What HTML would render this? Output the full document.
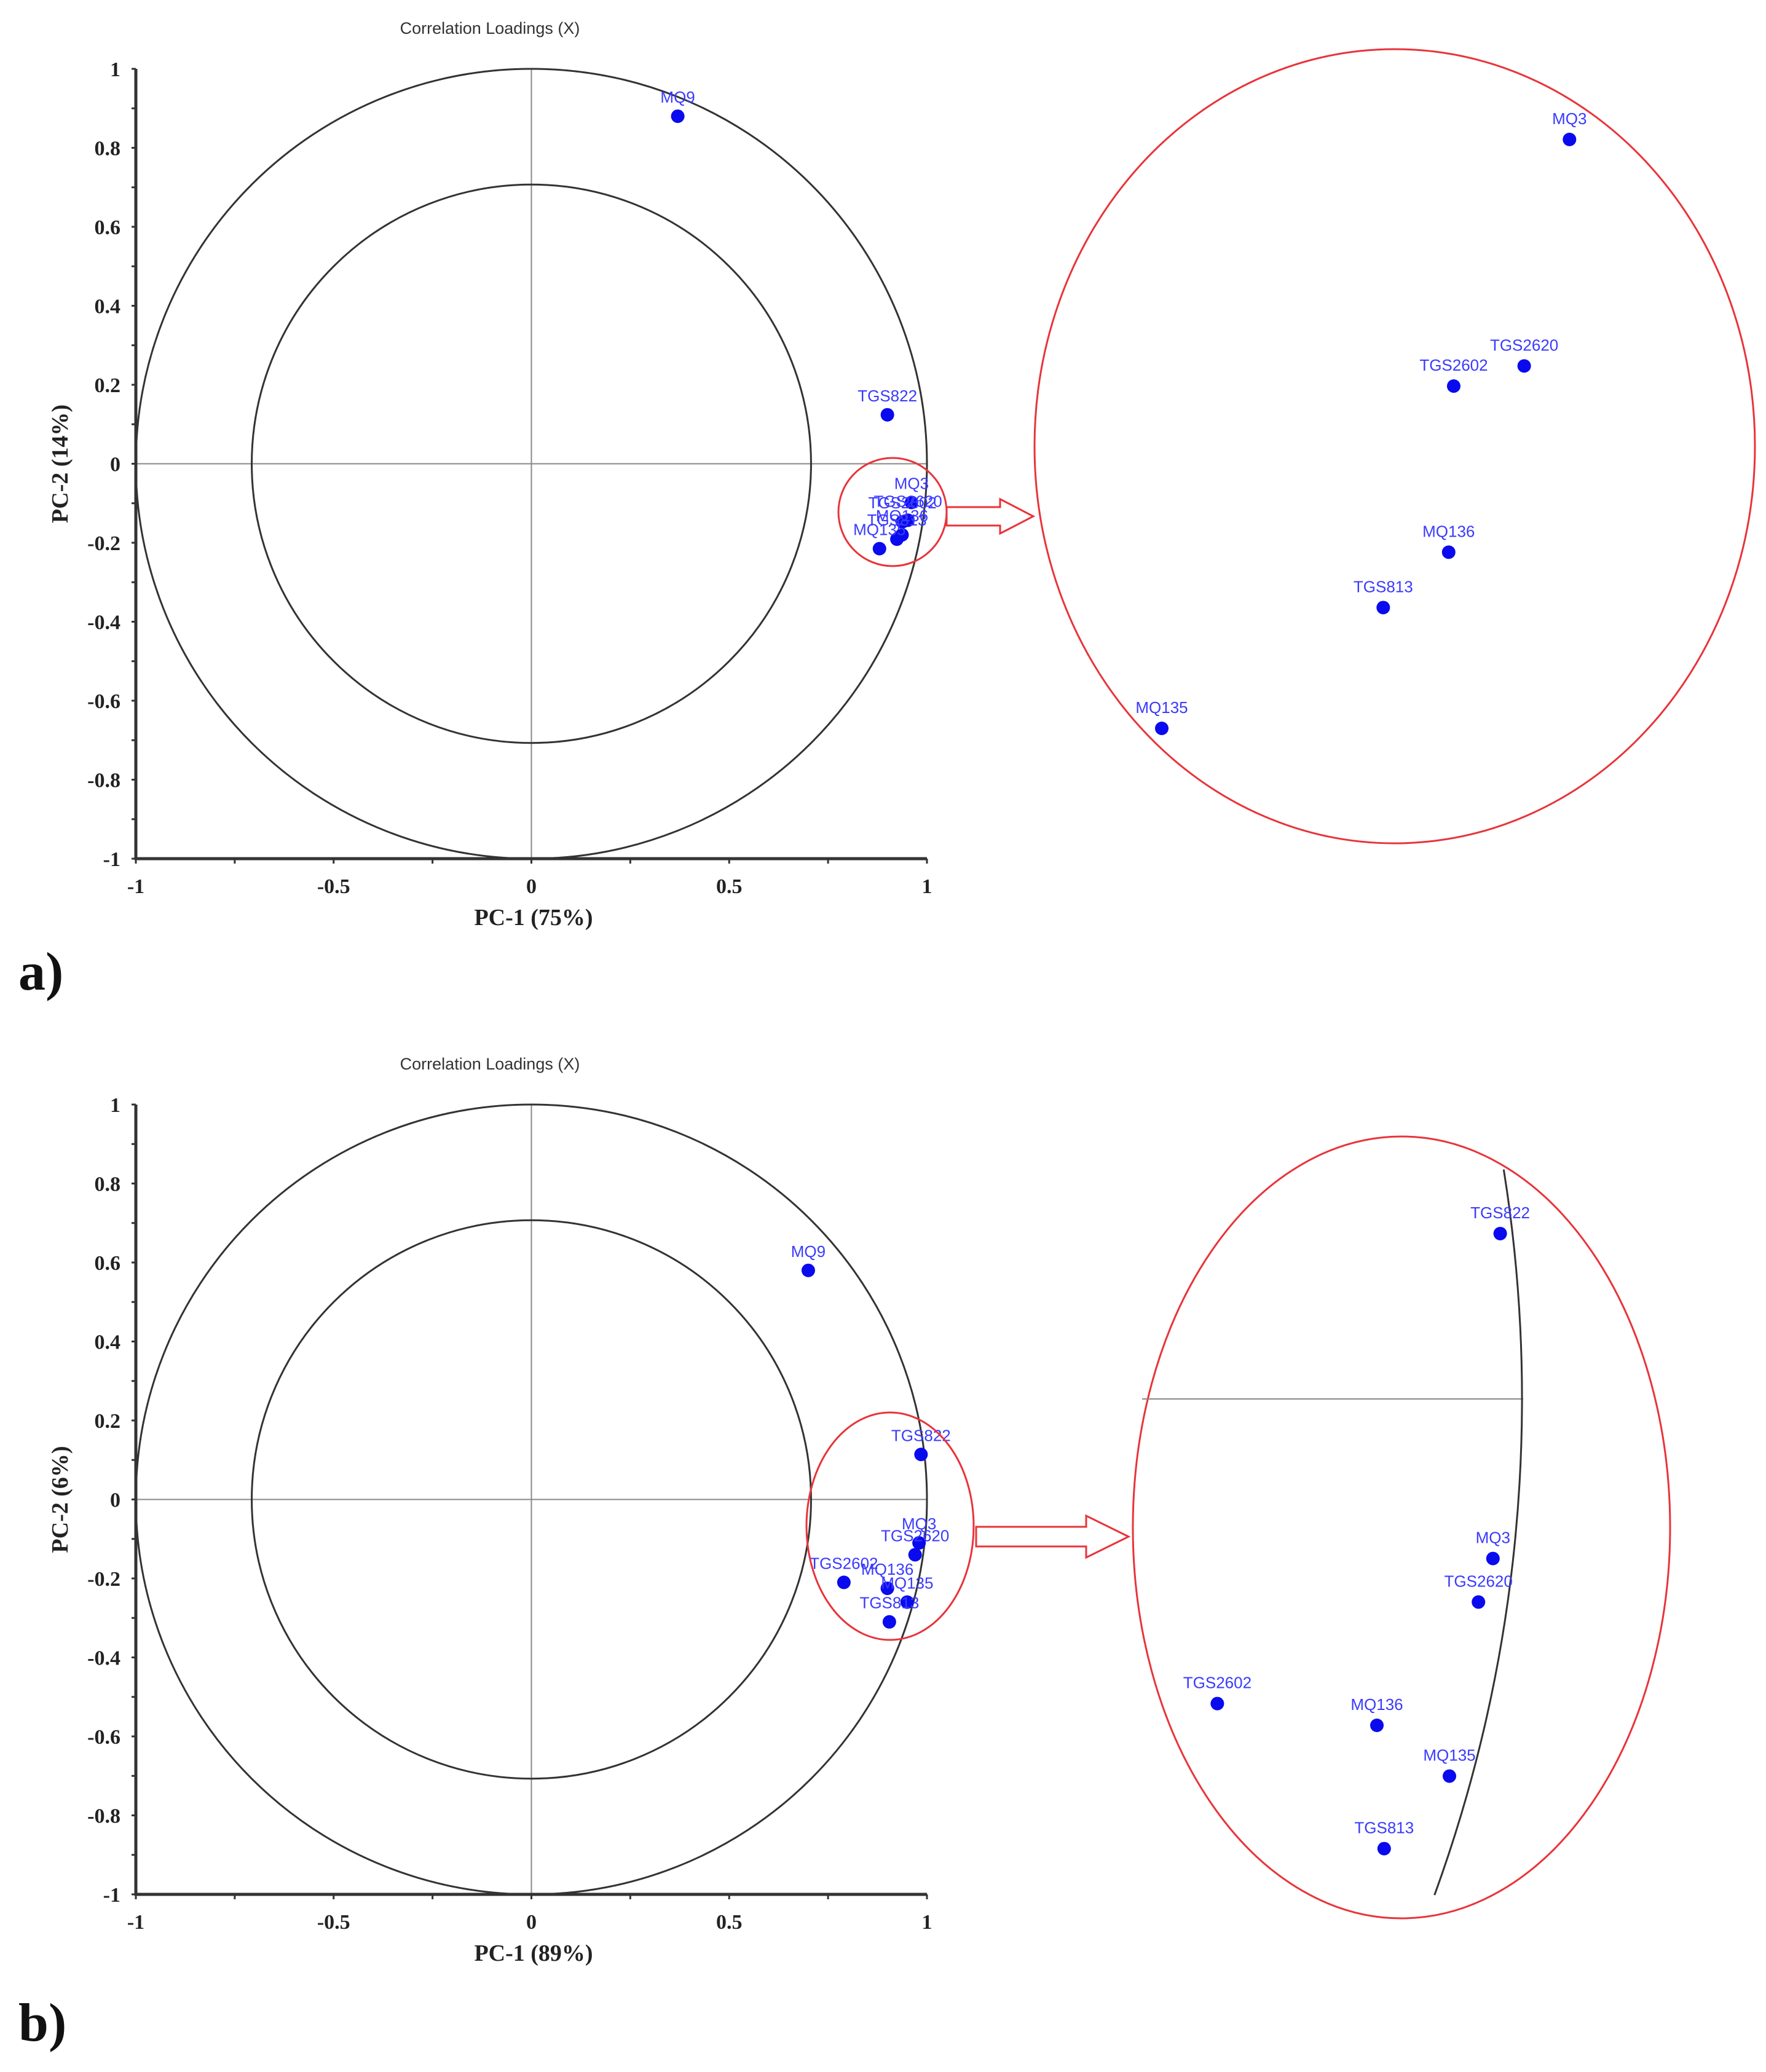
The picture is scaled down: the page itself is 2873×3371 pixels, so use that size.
<!DOCTYPE html>
<html><head><meta charset="utf-8"><style>
html,body{margin:0;padding:0;background:#fff;}
svg{display:block;}
</style></head><body>
<svg id="fig" width="2873" height="3371" viewBox="0 0 2873 3371" xmlns="http://www.w3.org/2000/svg">
<rect width="2873" height="3371" fill="#fff"/>
</svg>
<script>
// ---- data ----
const namesA = ["MQ9","TGS822","MQ3","TGS2620","TGS2602","MQ136","TGS813","MQ135"];
const pc1A = [0.37,0.90,0.961,0.952,0.938,0.937,0.924,0.88];
const pc2A = [0.88,0.124,-0.098,-0.143,-0.147,-0.180,-0.191,-0.215];
const insetNamesA = ["MQ3","TGS2620","TGS2602","MQ136","TGS813","MQ135"];
const namesB = ["MQ9","TGS822","MQ3","TGS2620","TGS2602","MQ136","MQ135","TGS813"];
const pc1B = [0.70,0.985,0.98,0.97,0.79,0.90,0.95,0.905];
const pc2B = [0.58,0.114,-0.11,-0.14,-0.21,-0.225,-0.26,-0.31];
const insetNamesB = ["TGS822","MQ3","TGS2620","TGS2602","MQ136","MQ135","TGS813"];
const yTicks = [1,0.8,0.6,0.4,0.2,0,-0.2,-0.4,-0.6,-0.8,-1];
const yTickLabels = ["1","0.8","0.6","0.4","0.2","0","-0.2","-0.4","-0.6","-0.8","-1"];
const xTicks = [-1,-0.5,0,0.5,1];
const xTickLabels = ["-1","-0.5","0","0.5","1"];

const NS="http://www.w3.org/2000/svg";
const svg=document.getElementById('fig');
function mk(tag,attrs,parent){const e=document.createElementNS(NS,tag);for(const k in attrs)e.setAttribute(k,attrs[k]);(parent||svg).appendChild(e);return e;}
const BLUE="#0a0aee", LBL="#3a3aff", RED="#e8343a";

function panel(p){
  const g=mk('g',{});
  
  
  const x0=221,x1=1508,yt=p.yTop,yb=p.yTop+1285;
  const sx=v=>x0+(v+1)/2*(x1-x0);
  const sy=v=>yb-(v+1)/2*(yb-yt);
  // title
  const t=mk('text',{x:797,y:p.yTop-57,'font-family':'Liberation Sans, sans-serif','font-size':27,fill:'#333','text-anchor':'middle'},g);
  t.textContent='Correlation Loadings (X)';
  
  
  // crosshair
  const hl=mk('line',{x1:sx(-1),x2:sx(1),y1:sy(0),y2:sy(0),stroke:'#888','stroke-width':2},g);
  
  
  const vl=mk('line',{x1:sx(0),x2:sx(0),y1:sy(1),y2:sy(-1),stroke:'#888','stroke-width':2},g);
  
  
  // circles
  const oc=mk('ellipse',{cx:sx(0),cy:sy(0),rx:sx(1)-sx(0),ry:sy(0)-sy(1),fill:'none',stroke:'#333','stroke-width':3},g);
  
  
  const ic=mk('ellipse',{cx:sx(0),cy:sy(0),rx:(sx(1)-sx(0))*0.707,ry:(sy(0)-sy(1))*0.707,fill:'none',stroke:'#333','stroke-width':3},g);
  
  
  // axes
  const ya=mk('line',{x1:x0,x2:x0,y1:yt,y2:yb+2,stroke:'#333','stroke-width':5},g);
  
  
  const xa=mk('line',{x1:x0-2,x2:x1,y1:yb,y2:yb,stroke:'#333','stroke-width':5},g);
  
  
  for(let v=-1;v<=1.001;v+=0.1){const l=mk('line',{x1:x0-7,x2:x0,y1:sy(v),y2:sy(v),stroke:'#333','stroke-width':3},g);
    
    }
  for(let v=-1;v<=1.001;v+=0.25){const l=mk('line',{x1:sx(v),x2:sx(v),y1:yb,y2:yb+8,stroke:'#333','stroke-width':3},g);
    
    }
  yTicks.forEach((v,i)=>{const e=mk('text',{x:196,y:sy(v)+12,'font-family':'Liberation Serif, serif','font-weight':'bold','font-size':34,fill:'#222','text-anchor':'end'},g);
    e.textContent=yTickLabels[i];
    
    });
  xTicks.forEach((v,i)=>{const e=mk('text',{x:sx(v),y:yb+56,'font-family':'Liberation Serif, serif','font-weight':'bold','font-size':34,fill:'#222','text-anchor':'middle'},g);
    e.textContent=xTickLabels[i];
    
    });
  const xt=mk('text',{x:868,y:yb+108,'font-family':'Liberation Serif, serif','font-weight':'bold','font-size':38,fill:'#222','text-anchor':'middle'},g);
  xt.textContent=p.xTitle;
  
  
  const yy=sy(0);
  const ytl=mk('text',{x:0,y:0,transform:`translate(110,${yy}) rotate(-90)`,'font-family':'Liberation Serif, serif','font-weight':'bold','font-size':38,fill:'#222','text-anchor':'middle'},g);
  ytl.textContent=p.yTitle;
  
  
  // points
  p.names.forEach((n,i)=>{
    const c=mk('circle',{cx:sx(p.pc1[i]),cy:sy(p.pc2[i]),r:11,fill:BLUE},g);
    
    
    const lb=mk('text',{x:sx(p.pc1[i]),y:sy(p.pc2[i])-22,'font-family':'Liberation Sans, sans-serif','font-size':26,fill:LBL,'text-anchor':'middle'},g);
    lb.textContent=n;
    
    
  });
  // red highlight ellipse
  const re=mk('ellipse',{cx:p.hl[0],cy:p.hl[1],rx:p.hl[2],ry:p.hl[3],fill:'none',stroke:RED,'stroke-width':3},g);
  
  
  // arrow
  const a=p.arrow; // x0, xb, xtip, yc, shaft half, head half
  const ar=mk('polygon',{points:`${a[0]},${a[3]-a[4]} ${a[1]},${a[3]-a[4]} ${a[1]},${a[3]-a[5]} ${a[2]},${a[3]} ${a[1]},${a[3]+a[5]} ${a[1]},${a[3]+a[4]} ${a[0]},${a[3]+a[4]}`,fill:'#fff',stroke:RED,'stroke-width':3},g);
  
  
  // panel letter
  const pl=mk('text',{x:30,y:p.letterY,'font-family':'Liberation Serif, serif','font-weight':'bold','font-size':88,fill:'#111'},g);
  pl.textContent=p.letter;
  
  
  // inset
  const ig=mk('g',{});
  
  
  const ie=mk('ellipse',{cx:p.inset[0],cy:p.inset[1],rx:p.inset[2],ry:p.inset[3],fill:'none',stroke:RED,'stroke-width':3},ig);
  
  
  const ix=v=>p.iox+v*p.isc, iy=v=>p.ioy-v*p.isc;
  if(p.extra) p.extra(ig,ix,iy,p);
  p.insetNames.forEach(n=>{
    const i=p.names.indexOf(n);
    const c=mk('circle',{cx:ix(p.pc1[i]),cy:iy(p.pc2[i]),r:11,fill:BLUE},ig);
    
    
    const lb=mk('text',{x:ix(p.pc1[i]),y:iy(p.pc2[i])-25,'font-family':'Liberation Sans, sans-serif','font-size':26,fill:LBL,'text-anchor':'middle'},ig);
    lb.textContent=n;
    
    
  });
}

panel({key:'panel-a',yTop:112,names:namesA,pc1:pc1A,pc2:pc2A,insetNames:insetNamesA,
  xTitle:'PC-1 (75%)',yTitle:'PC-2 (14%)',letter:'a)',letterY:1610,
  hl:[1452,833,88,88],arrow:[1540,1627,1681,840,15,28],
  inset:[2269,726,586,646],iox:1890-0.88*8189,ioy:1185-0.215*8189,isc:8189});

panel({key:'panel-b',yTop:1797,names:namesB,pc1:pc1B,pc2:pc2B,insetNames:insetNamesB,
  xTitle:'PC-1 (89%)',yTitle:'PC-2 (6%)',letter:'b)',letterY:3320,
  hl:[1448,2483,136,185],arrow:[1588,1767,1836,2500,16,34],
  inset:[2280,2485,437,636],iox:116,ioy:2276,isc:2360,
  extra:(ig,ix,iy,p)=>{
    const hl=mk('line',{x1:1858,x2:2478,y1:iy(0),y2:iy(0),stroke:'#888','stroke-width':2},ig);
    
    
    const R=p.isc, a1=9.1*Math.PI/180, a2=-20*Math.PI/180;
    const sxp=ix(0)+R*Math.cos(a1), syp=iy(0)-R*Math.sin(a1);
    const exp=ix(0)+R*Math.cos(a2), eyp=iy(0)-R*Math.sin(a2);
    const arc=mk('path',{d:`M${sxp},${syp} A${R},${R} 0 0 1 ${exp},${eyp}`,fill:'none',stroke:'#333','stroke-width':3},ig);
    
    
  }});
</script>
</body></html>
